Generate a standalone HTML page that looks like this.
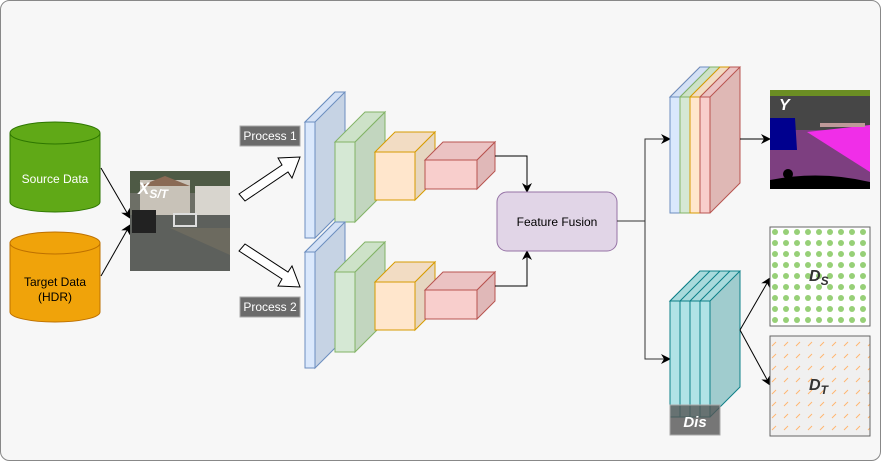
<!DOCTYPE html>
<html><head><meta charset="utf-8"><style>
html,body{margin:0;padding:0;background:#fff}
svg{display:block;font-family:"Liberation Sans",sans-serif}
</style></head><body>
<svg width="881" height="461" viewBox="0 0 881 461" xmlns="http://www.w3.org/2000/svg">
<defs>
<marker id="a" markerWidth="10" markerHeight="10" refX="9" refY="5" orient="auto" markerUnits="userSpaceOnUse"><path d="M0,0 L10,5 L0,10 L3,5 Z" fill="#000"/></marker>
<pattern id="dots" width="11" height="11" patternUnits="userSpaceOnUse" x="770" y="227"><circle cx="5" cy="5" r="3" fill="#97d077"/></pattern>
<pattern id="dash" width="12" height="12" patternUnits="userSpaceOnUse" x="770" y="336"><path d="M2,10 L6,6" stroke="#ffb570" stroke-width="1"/></pattern>
</defs>
<rect x="0.5" y="0.5" width="880" height="460" rx="9" fill="#f7f7f7" stroke="#888"/>
<!-- cylinders -->
<g stroke="#2d7600" fill="#60a917"><path d="M10,133 L10,202 A45,10 0 0 0 100,202 L100,133"/><ellipse cx="55" cy="133" rx="45" ry="11"/></g>
<text x="55" y="183" fill="#fff" font-size="12" text-anchor="middle">Source Data</text>
<g stroke="#bd7000" fill="#f0a30a"><path d="M10,243 L10,312 A45,10 0 0 0 100,312 L100,243"/><ellipse cx="55" cy="243" rx="45" ry="11"/></g>
<text x="55" y="286" fill="#000" font-size="12" text-anchor="middle">Target Data</text>
<text x="55" y="301" fill="#000" font-size="12" text-anchor="middle">(HDR)</text>
<line x1="101" y1="168" x2="130" y2="218" stroke="#000" marker-end="url(#a)"/>
<line x1="101" y1="276" x2="130" y2="225" stroke="#000" marker-end="url(#a)"/>
<!-- input image -->
<rect x="130" y="171" width="100" height="100" fill="#6d6f66"/>
<rect x="130" y="171" width="100" height="22" fill="#4e5a45"/>
<rect x="140" y="180" width="50" height="38" fill="#c8c2b8"/>
<rect x="195" y="186" width="35" height="30" fill="#d8d5ce"/>
<path d="M140,186 L165,176 L190,186 Z" fill="#8a6a55"/>
<rect x="130" y="215" width="100" height="56" fill="#5d605c"/>
<path d="M170,228 L230,255 L230,228 Z" fill="#6c6a5f"/>
<rect x="132" y="210" width="24" height="23" fill="#222"/>
<rect x="174" y="214" width="22" height="12" fill="none" stroke="#ddd" stroke-width="2"/>
<text x="138" y="194" fill="#fff" font-size="17" font-style="italic" font-weight="bold">X<tspan font-size="12" dy="4">S/T</tspan></text>
<!-- process labels -->
<rect x="240" y="126" width="60" height="20" fill="#6b6b6b" stroke="#aaa"/>
<text x="270" y="140" fill="#fff" font-size="12" text-anchor="middle">Process 1</text>
<rect x="240" y="297" width="60" height="20" fill="#6b6b6b" stroke="#aaa"/>
<text x="270" y="311" fill="#fff" font-size="12" text-anchor="middle">Process 2</text>
<!-- hollow arrows -->
<path d="M239,194 L282,165 L278,158 L300,157 L292,178 L288,172 L245,201 Z" fill="#fff" stroke="#000"/>
<path d="M239,251 L282,279 L278,286 L300,287 L292,266 L288,272 L245,244 Z" fill="#fff" stroke="#000"/>
<!-- cube stacks -->
<g id="stack">
<path d="M305,122 L335,92 L345,92 L345,208 L315,238 L315,122 Z" fill="#c6d3e4" stroke="#6c8ebf"/>
<path d="M305,122 L335,92 L345,92 L315,122 Z" fill="#d4e1f5" stroke="#6c8ebf"/>
<rect x="305" y="122" width="10" height="116" fill="#dae8fc" stroke="#6c8ebf"/>
<path d="M355,142 L385,112 L385,192 L355,222 Z" fill="#c2d6bf" stroke="#82b366"/>
<path d="M335,142 L365,112 L385,112 L355,142 Z" fill="#cde2c8" stroke="#82b366"/>
<rect x="335" y="142" width="20" height="80" fill="#d5e8d4" stroke="#82b366"/>
<path d="M415,152 L435,132 L435,180 L415,200 Z" fill="#e6d6c0" stroke="#d79b00"/>
<path d="M375,152 L395,132 L435,132 L415,152 Z" fill="#f2dcc3" stroke="#d79b00"/>
<rect x="375" y="152" width="40" height="48" fill="#ffe6cc" stroke="#d79b00"/>
<path d="M477,160 L495,142 L495,171 L477,189 Z" fill="#e0b8b8" stroke="#b85450"/>
<path d="M425,160 L443,142 L495,142 L477,160 Z" fill="#ebc3c3" stroke="#b85450"/>
<rect x="425" y="160" width="52" height="29" fill="#f8cecc" stroke="#b85450"/>
</g>
<use href="#stack" transform="translate(0,130)"/>
<!-- fusion -->
<polyline points="495,156 527,156 527,192" fill="none" stroke="#000" marker-end="url(#a)"/>
<polyline points="495,286 527,286 527,251" fill="none" stroke="#000" marker-end="url(#a)"/>
<rect x="497" y="192" width="120" height="59" rx="10" fill="#e1d5e7" stroke="#9673a6"/>
<text x="557" y="226" font-size="12" text-anchor="middle" fill="#000">Feature Fusion</text>
<polyline points="617,221 645,221 645,139 670,139" fill="none" stroke="#333" marker-end="url(#a)"/>
<polyline points="645,221 645,359 670,359" fill="none" stroke="#333" marker-end="url(#a)"/>
<!-- output stack -->
<path d="M670,97 L700,67 L740,67 L740,183 L710,213 L670,213 Z" fill="#dfb8b5" stroke="#b85450"/>
<path d="M670,97 L700,67 L710,67 L680,97 Z" fill="#d4e1f5" stroke="#6c8ebf"/>
<path d="M680,97 L710,67 L720,67 L690,97 Z" fill="#cde2c8" stroke="#82b366"/>
<path d="M690,97 L720,67 L730,67 L700,97 Z" fill="#f2dcc3" stroke="#d79b00"/>
<path d="M700,97 L730,67 L740,67 L710,97 Z" fill="#ebc3c3" stroke="#b85450"/>
<rect x="670" y="97" width="10" height="116" fill="#dae8fc" stroke="#6c8ebf"/>
<rect x="680" y="97" width="10" height="116" fill="#d5e8d4" stroke="#82b366"/>
<rect x="690" y="97" width="10" height="116" fill="#ffe6cc" stroke="#d79b00"/>
<rect x="700" y="97" width="10" height="116" fill="#f8cecc" stroke="#b85450"/>
<line x1="740" y1="139" x2="770" y2="139" stroke="#000" marker-end="url(#a)"/>
<!-- Y image -->
<rect x="770" y="90" width="100" height="99" fill="#7d3f80"/>
<rect x="770" y="90" width="100" height="40" fill="#464646"/>
<rect x="770" y="90" width="100" height="6" fill="#6b8e23"/>
<path d="M807,132 L870,125 L870,172 Z" fill="#f02ee8"/>
<path d="M770,118 L795,118 L797,150 L770,150 Z" fill="#00008e"/>
<path d="M770,180 Q820,170 870,182 L870,189 L770,189 Z" fill="#000"/>
<circle cx="788" cy="174" r="5" fill="#000"/>
<rect x="820" y="123" width="45" height="4" fill="#be9999"/>
<text x="779" y="110" fill="#fff" font-size="16" font-style="italic" font-weight="bold">Y</text>
<!-- Dis stack -->
<path d="M670,301 L700,271 L740,271 L740,387 L710,417 L670,417 Z" fill="#a0ccce" stroke="#0e8088"/>
<path d="M670,301 L700,271 L740,271 L710,301 Z" fill="#a8dadc" stroke="#0e8088"/>
<path d="M680,301 L710,271 M690,301 L720,271 M700,301 L730,271" stroke="#0e8088"/>
<rect x="670" y="301" width="40" height="116" fill="#b0e3e6" stroke="#0e8088"/>
<path d="M680,301 V417 M690,301 V417 M700,301 V417" stroke="#0e8088"/>
<rect x="670" y="405" width="50" height="30" fill="#555" fill-opacity="0.8" stroke="#aaa"/>
<text x="695" y="427" fill="#fff" font-size="15" font-style="italic" font-weight="bold" text-anchor="middle">Dis</text>
<line x1="740" y1="330" x2="770" y2="278" stroke="#000" marker-end="url(#a)"/>
<line x1="740" y1="330" x2="770" y2="385" stroke="#000" marker-end="url(#a)"/>
<!-- Ds / Dt -->
<rect x="770" y="227" width="100" height="99" fill="#fff"/>
<rect x="770" y="227" width="100" height="99" fill="url(#dots)" stroke="#666"/>
<text x="809" y="281" fill="#333" font-size="16" font-style="italic" font-weight="bold">D<tspan font-size="12" dy="4">S</tspan></text>
<rect x="770" y="336" width="100" height="100" fill="#f0f0f0"/>
<rect x="770" y="336" width="100" height="100" fill="url(#dash)" stroke="#666"/>
<text x="809" y="390" fill="#333" font-size="16" font-style="italic" font-weight="bold">D<tspan font-size="12" dy="4">T</tspan></text>
</svg>
</body></html>
